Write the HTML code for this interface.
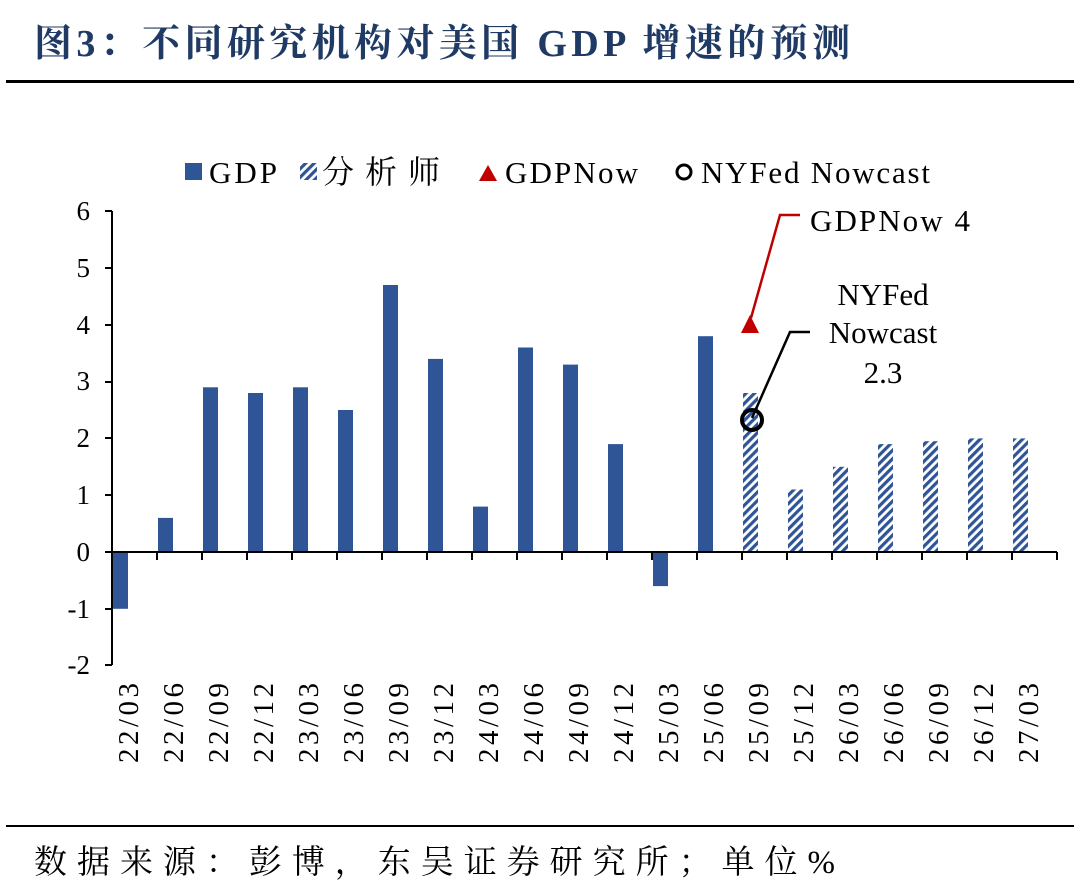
<!DOCTYPE html>
<html><head><meta charset="utf-8"><style>
body{margin:0;background:#fff;}
svg{display:block;font-family:"Liberation Serif","Noto Serif CJK SC",serif;}
</style></head><body>
<svg width="1080" height="891" xmlns="http://www.w3.org/2000/svg">
<defs>
<pattern id="h" width="6" height="6" patternUnits="userSpaceOnUse" patternTransform="rotate(45)">
<rect width="6" height="6" fill="#fff"/><rect width="3.2" height="6" fill="#2f5597"/>
</pattern>
</defs>
<text x="34" y="56" font-size="38" font-weight="bold" fill="#1f3a64" textLength="816" lengthAdjust="spacing">图3：不同研究机构对美国 GDP 增速的预测</text>
<rect x="6" y="80" width="1068" height="3" fill="#000"/>
<rect x="6" y="825" width="1068" height="2" fill="#000"/>
<text x="34" y="873" font-size="33" fill="#000" textLength="801" lengthAdjust="spacing">数据来源：彭博，东吴证券研究所；单位%</text>
<!-- legend -->
<rect x="185" y="163" width="17" height="17" fill="#2f5597"/>
<text x="209" y="183" font-size="31" textLength="68">GDP</text>
<rect x="300" y="163" width="17" height="17" fill="url(#h)"/>
<text x="322" y="183" font-size="32" textLength="118" lengthAdjust="spacing">分析师</text>
<polygon points="488,165 479,181 497,181" fill="#c00000"/>
<text x="505" y="183" font-size="31" textLength="133">GDPNow</text>
<circle cx="684" cy="172" r="7" fill="none" stroke="#000" stroke-width="3"/>
<text x="701" y="183" font-size="31" textLength="229">NYFed Nowcast</text>
<!-- y axis -->
<g font-size="27" text-anchor="end">
<text x="90" y="220">6</text><text x="90" y="277">5</text><text x="90" y="334">4</text><text x="90" y="390">3</text><text x="90" y="447">2</text><text x="90" y="504">1</text><text x="90" y="561">0</text><text x="90" y="618">-1</text><text x="90" y="674">-2</text>
</g>
<line x1="112" y1="211" x2="112" y2="665" stroke="#000" stroke-width="2"/>
<g stroke="#000" stroke-width="2">
<line x1="105" y1="211" x2="112" y2="211"/><line x1="105" y1="268" x2="112" y2="268"/><line x1="105" y1="325" x2="112" y2="325"/><line x1="105" y1="382" x2="112" y2="382"/><line x1="105" y1="438" x2="112" y2="438"/><line x1="105" y1="495" x2="112" y2="495"/><line x1="105" y1="552" x2="112" y2="552"/><line x1="105" y1="609" x2="112" y2="609"/><line x1="105" y1="665" x2="112" y2="665"/>
</g>
<g fill="#2f5597">
<rect x="113" y="552" width="15" height="56.8"/>
<rect x="158" y="517.9" width="15" height="34.1"/>
<rect x="203" y="387.3" width="15" height="164.7"/>
<rect x="248" y="393" width="15" height="159"/>
<rect x="293" y="387.3" width="15" height="164.7"/>
<rect x="338" y="410" width="15" height="142"/>
<rect x="383" y="285" width="15" height="267"/>
<rect x="428" y="358.9" width="15" height="193.1"/>
<rect x="473" y="506.6" width="15" height="45.4"/>
<rect x="518" y="347.5" width="15" height="204.5"/>
<rect x="563" y="364.6" width="15" height="187.4"/>
<rect x="608" y="444.1" width="15" height="107.9"/>
<rect x="653" y="552" width="15" height="34.1"/>
<rect x="698" y="336.2" width="15" height="215.8"/>
</g>
<g fill="url(#h)">
<rect x="743" y="393" width="15" height="159"/>
<rect x="788" y="489.5" width="15" height="62.5"/>
<rect x="833" y="466.8" width="15" height="85.2"/>
<rect x="878" y="444.1" width="15" height="107.9"/>
<rect x="923" y="441.2" width="15" height="110.8"/>
<rect x="968" y="438.4" width="15" height="113.6"/>
<rect x="1013" y="438.4" width="15" height="113.6"/>
</g>
<line x1="112" y1="552" x2="1057" y2="552" stroke="#000" stroke-width="2"/>
<g stroke="#000" stroke-width="2">
<line x1="112" y1="552" x2="112" y2="560"/><line x1="157" y1="552" x2="157" y2="560"/><line x1="202" y1="552" x2="202" y2="560"/><line x1="247" y1="552" x2="247" y2="560"/><line x1="292" y1="552" x2="292" y2="560"/><line x1="337" y1="552" x2="337" y2="560"/><line x1="382" y1="552" x2="382" y2="560"/><line x1="427" y1="552" x2="427" y2="560"/><line x1="472" y1="552" x2="472" y2="560"/><line x1="517" y1="552" x2="517" y2="560"/><line x1="562" y1="552" x2="562" y2="560"/><line x1="607" y1="552" x2="607" y2="560"/><line x1="652" y1="552" x2="652" y2="560"/><line x1="697" y1="552" x2="697" y2="560"/><line x1="742" y1="552" x2="742" y2="560"/><line x1="787" y1="552" x2="787" y2="560"/><line x1="832" y1="552" x2="832" y2="560"/><line x1="877" y1="552" x2="877" y2="560"/><line x1="922" y1="552" x2="922" y2="560"/><line x1="967" y1="552" x2="967" y2="560"/><line x1="1012" y1="552" x2="1012" y2="560"/><line x1="1057" y1="552" x2="1057" y2="560"/>
</g>
<g font-size="29" text-anchor="end">
<text transform="translate(138,683) rotate(-90)" textLength="80">22/03</text>
<text transform="translate(183,683) rotate(-90)" textLength="80">22/06</text>
<text transform="translate(228,683) rotate(-90)" textLength="80">22/09</text>
<text transform="translate(273,683) rotate(-90)" textLength="80">22/12</text>
<text transform="translate(318,683) rotate(-90)" textLength="80">23/03</text>
<text transform="translate(363,683) rotate(-90)" textLength="80">23/06</text>
<text transform="translate(408,683) rotate(-90)" textLength="80">23/09</text>
<text transform="translate(453,683) rotate(-90)" textLength="80">23/12</text>
<text transform="translate(498,683) rotate(-90)" textLength="80">24/03</text>
<text transform="translate(543,683) rotate(-90)" textLength="80">24/06</text>
<text transform="translate(588,683) rotate(-90)" textLength="80">24/09</text>
<text transform="translate(633,683) rotate(-90)" textLength="80">24/12</text>
<text transform="translate(678,683) rotate(-90)" textLength="80">25/03</text>
<text transform="translate(723,683) rotate(-90)" textLength="80">25/06</text>
<text transform="translate(768,683) rotate(-90)" textLength="80">25/09</text>
<text transform="translate(813,683) rotate(-90)" textLength="80">25/12</text>
<text transform="translate(858,683) rotate(-90)" textLength="80">26/03</text>
<text transform="translate(903,683) rotate(-90)" textLength="80">26/06</text>
<text transform="translate(948,683) rotate(-90)" textLength="80">26/09</text>
<text transform="translate(993,683) rotate(-90)" textLength="80">26/12</text>
<text transform="translate(1038,683) rotate(-90)" textLength="80">27/03</text>
</g>
<!-- annotations -->
<polygon points="750,315 741,333 759,333" fill="#c00000"/>
<polyline points="751,318 780,215 800,215" fill="none" stroke="#c00000" stroke-width="2.5"/>
<text x="810" y="231" font-size="31" textLength="160">GDPNow 4</text>
<polyline points="752,418 790,332 810,332" fill="none" stroke="#000" stroke-width="2.5"/>
<circle cx="752" cy="420" r="10" fill="none" stroke="#000" stroke-width="4"/>
<g font-size="31" text-anchor="middle"><text x="883" y="305">NYFed</text><text x="883" y="343">Nowcast</text><text x="883" y="383">2.3</text></g>
</svg>
</body></html>
